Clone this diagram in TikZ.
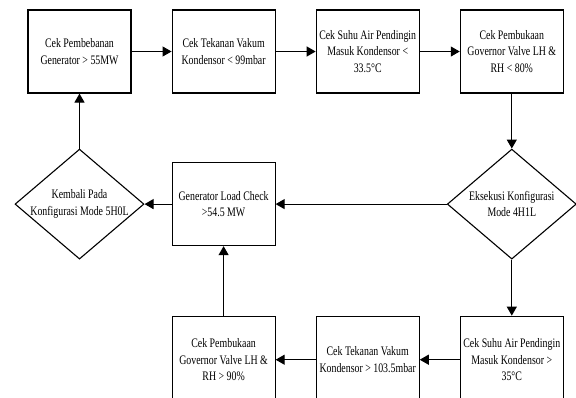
\documentclass[tikz,border=0pt]{standalone}
\usepackage{fontspec}
\setmainfont{Liberation Serif}[FakeStretch=0.76]
\usepackage{tikz}
\usetikzlibrary{arrows.meta}
\usetikzlibrary{positioning}
\usetikzlibrary{shapes.geometric}

\tikzset{
  kotak/.style={draw, line width=1.1pt, minimum width=103pt, minimum height=83pt,
    inner sep=0pt, align=center, font=\fontsize{13}{16.7}\selectfont},
  keputusan/.style={draw, diamond, aspect=1.17, line width=1.1pt, minimum width=129pt,
    minimum height=110pt, inner sep=-2pt, align=center, font=\fontsize{13}{16.7}\selectfont},
  alur/.style={line width=1.1pt, -{Triangle[length=9pt,width=10pt]}},
}

\begin{document}
\begin{tikzpicture}[x=1pt, y=-1pt, node distance=40pt]
    \useasboundingbox (0,0) rectangle (576,397);

    \node[kotak] (k1) at (79.5,51.5) {Cek Pembebanan\\Generator > 55MW};
    \node[kotak, right=of k1] (k2) {Cek Tekanan Vakum\\Kondensor < 99mbar};
    \node[kotak, right=of k2] (k3) {Cek Suhu Air Pendingin\\Masuk Kondensor <\\33.5°C};
    \node[kotak, right=of k3] (k4) {Cek Pembukaan\\Governor Valve LH \&\\RH < 80\%};

    \node[keputusan, below=55pt of k4] (d2) {Eksekusi Konfigurasi\\Mode 4H1L};
    \node[keputusan, below=55pt of k1] (d1) {Kembali Pada\\Konfigurasi Mode 5H0L};
    \node[kotak] (g) at (k2 |- d2) {Generator Load Check\\>54.5 MW};

    \node[kotak, minimum height=87pt, below=56pt of d2] (m3) {Cek Suhu Air Pendingin\\Masuk Kondensor >\\35°C};
    \node[kotak, minimum height=87pt, left=of m3] (m2) {Cek Tekanan Vakum\\Kondensor > 103.5mbar};
    \node[kotak, minimum height=87pt, left=of m2] (m1) {Cek Pembukaan\\Governor Valve LH \&\\RH > 90\%};

    \draw[alur] (k1) -- (k2);
    \draw[alur] (k2) -- (k3);
    \draw[alur] (k3) -- (k4);
    \draw[alur] (k4) -- (d2);
    \draw[alur] (d2) -- (g);
    \draw[alur] (g) -- (d1);
    \draw[alur] (d1) -- (k1);
    \draw[alur] (d2) -- (m3);
    \draw[alur] (m3) -- (m2);
    \draw[alur] (m2) -- (m1);
    \draw[alur] (m1) -- (g);
\end{tikzpicture}
\end{document}
